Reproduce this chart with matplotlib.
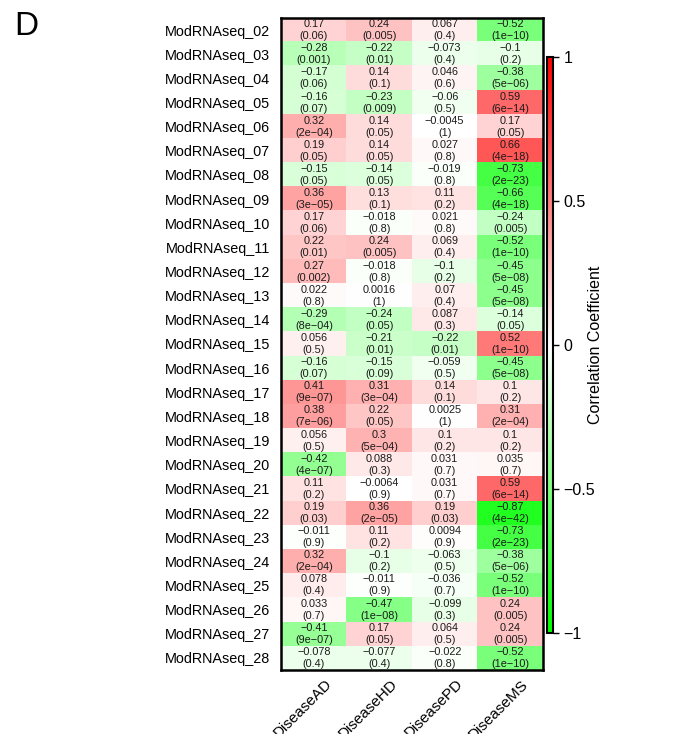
import numpy as np
import matplotlib
matplotlib.use('Agg')
import matplotlib.pyplot as plt
import matplotlib.transforms as mtransforms
from matplotlib.colors import LinearSegmentedColormap

plt.rcParams['font.family'] = ['Liberation Sans', 'DejaVu Sans']

rows = ['ModRNAseq_%02d' % i for i in range(2, 29)]
cols = ['DiseaseAD', 'DiseaseHD', 'DiseasePD', 'DiseaseMS']

r_ad = [0.17, -0.28, -0.17, -0.16, 0.32, 0.19, -0.15, 0.36, 0.17, 0.22, 0.27, 0.022, -0.29, 0.056,
        -0.16, 0.41, 0.38, 0.056, -0.42, 0.11, 0.19, -0.011, 0.32, 0.078, 0.033, -0.41, -0.078]
r_hd = [0.24, -0.22, 0.14, -0.23, 0.14, 0.14, -0.14, 0.13, -0.018, 0.24, -0.018, 0.0016, -0.24, -0.21,
        -0.15, 0.31, 0.22, 0.3, 0.088, -0.0064, 0.36, 0.11, -0.1, -0.011, -0.47, 0.17, -0.077]
r_pd = [0.067, -0.073, 0.046, -0.06, -0.0045, 0.027, -0.019, 0.11, 0.021, 0.069, -0.1, 0.07, 0.087, -0.22,
        -0.059, 0.14, 0.0025, 0.1, 0.031, 0.031, 0.19, 0.0094, -0.063, -0.036, -0.099, 0.064, -0.022]
r_ms = [-0.52, -0.1, -0.38, 0.59, 0.17, 0.66, -0.73, -0.66, -0.24, -0.52, -0.45, -0.45, -0.14, 0.52,
        -0.45, 0.1, 0.31, 0.1, 0.035, 0.59, -0.87, -0.73, -0.38, -0.52, 0.24, 0.24, -0.52]

p_ad = ['0.06', '0.001', '0.06', '0.07', '2e-04', '0.05', '0.05', '3e-05', '0.06', '0.01', '0.002', '0.8', '8e-04', '0.5',
        '0.07', '9e-07', '7e-06', '0.5', '4e-07', '0.2', '0.03', '0.9', '2e-04', '0.4', '0.7', '9e-07', '0.4']
p_hd = ['0.005', '0.01', '0.1', '0.009', '0.05', '0.05', '0.05', '0.1', '0.8', '0.005', '0.8', '1', '0.05', '0.01',
        '0.09', '3e-04', '0.05', '5e-04', '0.3', '0.9', '2e-05', '0.2', '0.2', '0.9', '1e-08', '0.05', '0.4']
p_pd = ['0.4', '0.4', '0.6', '0.5', '1', '0.8', '0.8', '0.2', '0.8', '0.4', '0.2', '0.4', '0.3', '0.01',
        '0.5', '0.1', '1', '0.2', '0.7', '0.7', '0.03', '0.9', '0.5', '0.7', '0.3', '0.5', '0.8']
p_ms = ['1e-10', '0.2', '5e-06', '6e-14', '0.05', '4e-18', '2e-23', '4e-18', '0.005', '1e-10', '5e-08', '5e-08', '0.05', '1e-10',
        '5e-08', '0.2', '2e-04', '0.2', '0.7', '6e-14', '4e-42', '2e-23', '5e-06', '1e-10', '0.005', '0.005', '1e-10']


def main():
    r = np.array([r_ad, r_hd, r_pd, r_ms]).T
    p = [p_ad, p_hd, p_pd, p_ms]
    cmap = LinearSegmentedColormap.from_list('gwr', ['#00ff00', '#ffffff', '#ff0000'])

    fig = plt.figure(figsize=(6.96, 7.34), dpi=100)
    ax = fig.add_axes([0.404, 0.0872, 0.376, 0.8883])
    im = ax.imshow(r, cmap=cmap, vmin=-1, vmax=1, aspect='auto', interpolation='nearest')

    for i in range(len(rows)):
        for j in range(len(cols)):
            txt = ('%g' % r[i, j]).replace('-', '\u2212') + '\n(' + p[j][i].replace('-', '\u2212') + ')'
            ax.text(j, i, txt, ha='center', va='center', fontsize=7.8, color='#1a1a1a', linespacing=1.25)

    ax.set_yticks(range(len(rows)))
    ax.set_yticklabels(rows, fontsize=10.4)
    ax.set_xticks(range(len(cols)))
    ax.set_xticklabels(cols, fontsize=11, rotation=45, ha='right', rotation_mode='anchor')
    ax.tick_params(length=0, pad=8)
    ax.tick_params(axis='x', pad=5)
    shift = mtransforms.ScaledTranslation(8 / 72, 0, fig.dpi_scale_trans)
    for lab in ax.get_xticklabels():
        lab.set_transform(lab.get_transform() + shift)
    for s in ax.spines.values():
        s.set_linewidth(1.8)

    cax = fig.add_axes([0.786, 0.1376, 0.009, 0.7847])
    cb = fig.colorbar(im, cax=cax, ticks=[-1, -0.5, 0, 0.5, 1])
    cb.ax.set_yticklabels(['\u22121', '\u22120.5', '0', '0.5', '1'], fontsize=11.5)
    cb.outline.set_linewidth(1.5)
    cb.ax.tick_params(length=4, width=1)
    fig.text(596 / 696, 1 - 345 / 734, 'Correlation Coefficient', rotation=90,
             ha='center', va='center', fontsize=11.5)

    fig.text(0.02, 0.952, 'D', fontsize=24)
    fig.savefig('out.png', dpi=100)


main()
